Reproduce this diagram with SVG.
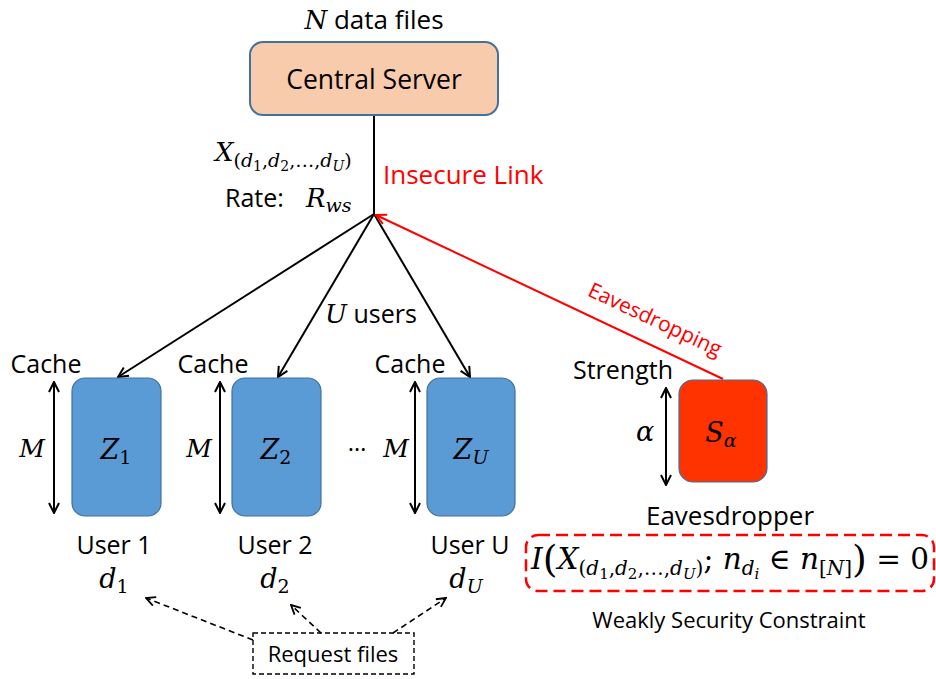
<svg xmlns="http://www.w3.org/2000/svg" width="936" height="679" viewBox="0 0 936 679">
<style>
.t{font-family:"Open Sans","Liberation Sans",sans-serif;fill:#000}
.m{font-family:"DejaVu Serif","Liberation Serif",serif;font-style:italic;fill:#000}
.n{font-style:normal}
.blk{stroke:#000;stroke-width:2;fill:none}
.red{stroke:#FF0000;stroke-width:2;fill:none}
</style>
<defs>
<marker id="ah" viewBox="0 0 12 12" refX="11" refY="6" markerWidth="12" markerHeight="12" markerUnits="userSpaceOnUse" orient="auto-start-reverse">
<path d="M1,1 L11,6 L1,11" fill="none" stroke="#000" stroke-width="2"/>
</marker>
<marker id="ahr" viewBox="0 0 12 12" refX="11" refY="6" markerWidth="12" markerHeight="12" markerUnits="userSpaceOnUse" orient="auto">
<path d="M1,1 L11,6 L1,11" fill="none" stroke="#FF0000" stroke-width="2"/>
</marker>
<marker id="ahs" viewBox="0 0 12 12" refX="11" refY="6" markerWidth="11" markerHeight="11" markerUnits="userSpaceOnUse" orient="auto">
<path d="M1,1 L11,6 L1,11" fill="none" stroke="#000" stroke-width="2"/>
</marker>
</defs>

<g id="connectors">
<line class="blk" x1="374" y1="115" x2="374" y2="214"/>
<line class="blk" x1="374" y1="214" x2="118" y2="377" marker-end="url(#ah)"/>
<line class="blk" x1="374" y1="214" x2="278" y2="377" marker-end="url(#ah)"/>
<line class="blk" x1="374" y1="214" x2="470" y2="377" marker-end="url(#ah)"/>
<line class="red" x1="723" y1="379" x2="376" y2="215" marker-end="url(#ahr)"/>
<line class="blk" x1="54" y1="382" x2="54" y2="513" marker-start="url(#ah)" marker-end="url(#ah)"/>
<line class="blk" x1="220" y1="382" x2="220" y2="513" marker-start="url(#ah)" marker-end="url(#ah)"/>
<line class="blk" x1="415" y1="382" x2="415" y2="513" marker-start="url(#ah)" marker-end="url(#ah)"/>
<line class="blk" x1="666" y1="388" x2="666" y2="485" marker-start="url(#ah)" marker-end="url(#ah)"/>
<g stroke="#000" stroke-width="1.6" stroke-dasharray="6,4" fill="none">
<line x1="253" y1="640" x2="146" y2="598" marker-end="url(#ahs)"/>
<line x1="321" y1="633" x2="291" y2="605" marker-end="url(#ahs)"/>
<line x1="393" y1="633" x2="446" y2="598" marker-end="url(#ahs)"/>
</g>
</g>

<g id="server">
<text class="t" x="374" y="29" text-anchor="middle" font-size="26"><tspan class="m" font-size="26">N</tspan> data files</text>
<rect x="250" y="42" width="248" height="73" rx="13" fill="#F8CBAD" stroke="#41719C" stroke-width="2"/>
<text class="t" x="374" y="89" text-anchor="middle" font-size="26.5">Central Server</text>
</g>

<g id="link-labels">
<text class="m" x="215" y="161" font-size="26">X<tspan font-size="19" dy="6" class="n">(</tspan><tspan font-size="19">d</tspan><tspan font-size="14" dy="4" class="n">1</tspan><tspan font-size="19" dy="-4" class="n">,</tspan><tspan font-size="19">d</tspan><tspan font-size="14" dy="4" class="n">2</tspan><tspan font-size="19" dy="-4" class="n">,…,</tspan><tspan font-size="19">d</tspan><tspan font-size="14" dy="4">U</tspan><tspan font-size="19" dy="-4" class="n">)</tspan></text>
<text class="t" x="225" y="207" font-size="25">Rate:</text>
<text class="m" x="306" y="207" font-size="26">R<tspan font-size="19" dy="5">ws</tspan></text>
<text class="t" x="383" y="184" font-size="26" style="fill:#FF0000">Insecure Link</text>
<text class="t" x="355" y="323" font-size="25"><tspan class="m" x="325" font-size="26">U</tspan> users</text>
<text class="t" x="0" y="0" font-size="21" style="fill:#FF0000" transform="translate(652,326) rotate(25.2)" text-anchor="middle">Eavesdropping</text>
</g>

<g id="user1">
<text class="t" x="46" y="373" text-anchor="middle" font-size="25">Cache</text>
<text class="m" x="32" y="457" text-anchor="middle" font-size="25">M</text>
<rect x="72" y="378" width="89" height="138" rx="13" fill="#5B9BD5" stroke="#41719C" stroke-width="1.2"/>
<text class="m" x="116" y="459" text-anchor="middle" font-size="27">Z<tspan class="n" font-size="19" dy="5">1</tspan></text>
<text class="t" x="114" y="554" text-anchor="middle" font-size="25">User 1</text>
<text class="m" x="114" y="588" text-anchor="middle" font-size="27">d<tspan class="n" font-size="19" dy="5">1</tspan></text>
</g>

<g id="user2">
<text class="t" x="213" y="373" text-anchor="middle" font-size="25">Cache</text>
<text class="m" x="199" y="457" text-anchor="middle" font-size="25">M</text>
<rect x="232" y="378" width="89" height="138" rx="13" fill="#5B9BD5" stroke="#41719C" stroke-width="1.2"/>
<text class="m" x="276" y="459" text-anchor="middle" font-size="27">Z<tspan class="n" font-size="19" dy="5">2</tspan></text>
<text class="t" x="275" y="554" text-anchor="middle" font-size="25">User 2</text>
<text class="m" x="275" y="588" text-anchor="middle" font-size="27">d<tspan class="n" font-size="19" dy="5">2</tspan></text>
</g>

<text class="t" x="357" y="451" text-anchor="middle" font-size="24">…</text>

<g id="userU">
<text class="t" x="410" y="373" text-anchor="middle" font-size="25">Cache</text>
<text class="m" x="396" y="457" text-anchor="middle" font-size="25">M</text>
<rect x="427" y="378" width="88" height="138" rx="13" fill="#5B9BD5" stroke="#41719C" stroke-width="1.2"/>
<text class="m" x="471" y="459" text-anchor="middle" font-size="27">Z<tspan font-size="19" dy="5">U</tspan></text>
<text class="t" x="470" y="554" text-anchor="middle" font-size="25">User U</text>
<text class="m" x="466" y="588" text-anchor="middle" font-size="27">d<tspan font-size="19" dy="5">U</tspan></text>
</g>

<g id="eavesdropper">
<text class="t" x="623" y="379" text-anchor="middle" font-size="25">Strength</text>
<text class="m" x="645" y="441" text-anchor="middle" font-size="27">α</text>
<rect x="679" y="380" width="88" height="102" rx="14" fill="#FF3300" stroke="#41719C" stroke-width="1.2"/>
<text class="m" x="721" y="442" text-anchor="middle" font-size="27">S<tspan font-size="19" dy="5">α</tspan></text>
<text class="t" x="730" y="525" text-anchor="middle" font-size="26">Eavesdropper</text>
</g>

<g id="constraint">
<rect x="526" y="535" width="408" height="56" rx="12" fill="none" stroke="#FF0000" stroke-width="2.5" stroke-dasharray="12,6"/>
<text class="m" x="531" y="569" font-size="29.5">I<tspan class="n" font-size="38" dy="3">(</tspan><tspan dy="-3">X</tspan><tspan font-size="20" dy="6" class="n">(</tspan><tspan font-size="20">d</tspan><tspan font-size="15" dy="4" class="n">1</tspan><tspan font-size="20" dy="-4" class="n">,</tspan><tspan font-size="20">d</tspan><tspan font-size="15" dy="4" class="n">2</tspan><tspan font-size="20" dy="-4" class="n">,…,</tspan><tspan font-size="20">d</tspan><tspan font-size="15" dy="4">U</tspan><tspan font-size="20" dy="-4" class="n">)</tspan><tspan class="n" dy="-6">; </tspan><tspan>n</tspan><tspan font-size="20" dy="6">d</tspan><tspan font-size="15" dy="4">i</tspan><tspan class="n" dy="-10"> ∈ </tspan><tspan>n</tspan><tspan font-size="20" dy="6" class="n">[</tspan><tspan font-size="20">N</tspan><tspan font-size="20" class="n">]</tspan><tspan class="n" font-size="38" dy="-3">)</tspan><tspan class="n" dy="-3"> = 0</tspan></text>
<text class="t" x="729" y="628" text-anchor="middle" font-size="22">Weakly Security Constraint</text>
</g>

<g id="request">
<rect x="253" y="633" width="161" height="41" fill="none" stroke="#000" stroke-width="1.4" stroke-dasharray="5,3"/>
<text class="t" x="333" y="662" text-anchor="middle" font-size="22">Request files</text>
</g>
</svg>
